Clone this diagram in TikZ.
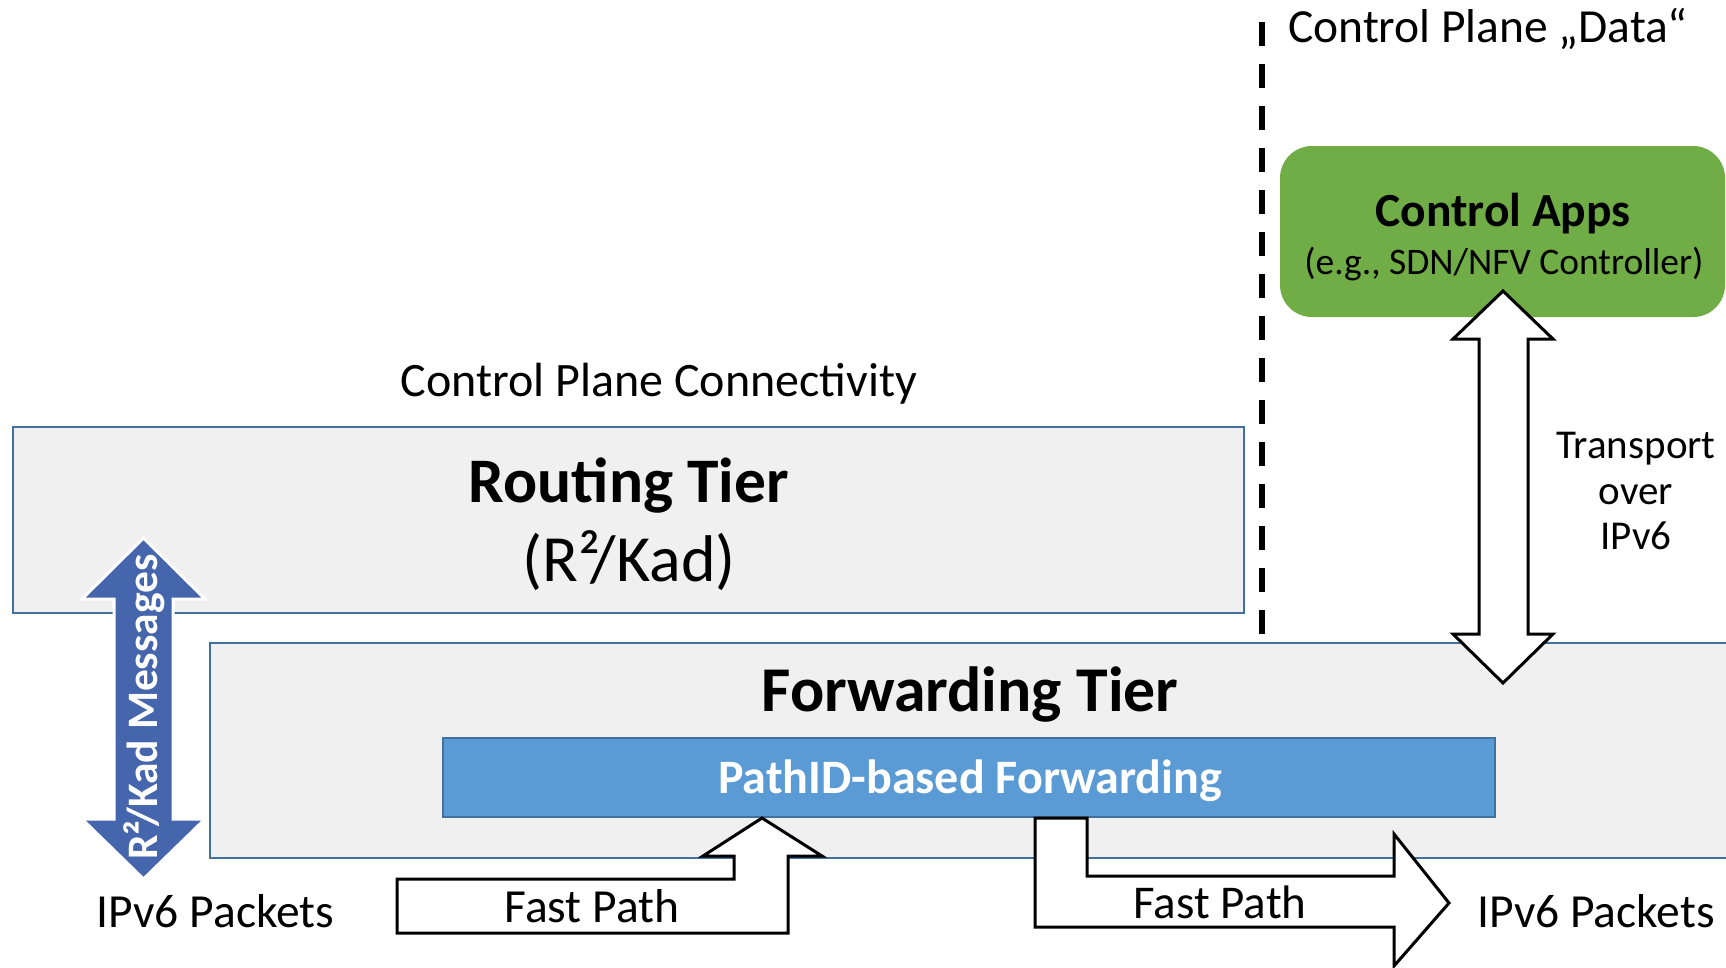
\documentclass[tikz,border=0pt]{standalone}
\usepackage{fontspec}
\setmainfont{Carlito}
\definecolor{tierfill}{HTML}{F0F0F0}
\definecolor{tierline}{HTML}{41719C}
\definecolor{pathfill}{HTML}{5B9BD5}
\definecolor{appgreen}{HTML}{70AD47}
\definecolor{msgblue}{HTML}{4565AD}
\newcommand{\fsz}[1]{\fontsize{#1}{#1}\selectfont}
\begin{document}
\begin{tikzpicture}[x=1pt,y=-1pt,
  tierbox/.style={draw=tierline, fill=tierfill, line width=2.5pt, inner sep=0pt},
  pathbox/.style={draw=tierline, fill=pathfill, line width=2pt, inner sep=0pt},
  appbox/.style={fill=appgreen, rounded corners=32pt, inner sep=0pt},
  lbl/.style={inner sep=0pt, anchor=base},
  blockarrow/.style={draw=black, fill=white, line width=3pt, line join=miter},
  msgarrow/.style={draw=white, fill=msgblue, line width=3pt, line join=miter},
  planeline/.style={draw=black, line width=6pt, dash pattern=on 24pt off 18pt}
]
\useasboundingbox (0,0) rectangle (1726,967);

% boxes
\node[tierbox, minimum width=1231pt, minimum height=186pt] (routing) at (628.5,520) {};
\node[tierbox, minimum width=1540pt, minimum height=215pt] (forwarding) at (980,750.5) {};
\node[pathbox, minimum width=1052pt, minimum height=79pt] (pathid) at (969,777.5) {};
\node[appbox, minimum width=445pt, minimum height=171pt] (apps) at (1502.5,231.5) {};

% dashed separator
\coordinate (sepbot) at (1262,634);
\coordinate (septop) at (1262,18);
\draw[planeline] (sepbot) -- (septop);

% transport double arrow
\draw[blockarrow] (1503,291) -- (1553,339) -- (1528,339) -- (1528,634) -- (1553,634)
  -- (1503,683) -- (1453,634) -- (1479,634) -- (1479,339) -- (1453,339) -- cycle;

% fast path arrows
\draw[blockarrow] (397,933) -- (397,879) -- (734,879) -- (734,856) -- (703,856)
  -- (762,818) -- (822,856) -- (788,856) -- (788,933) -- cycle;
\draw[blockarrow] (1035,818) -- (1087,818) -- (1087,876) -- (1394,876) -- (1394,834)
  -- (1449,903) -- (1394,966) -- (1394,927) -- (1035,927) -- cycle;

% R2/Kad messages arrow
\draw[msgarrow] (143.5,538) -- (205,599) -- (173,599) -- (173,819) -- (205,819)
  -- (143.5,879) -- (82,819) -- (114,819) -- (114,599) -- (82,599) -- cycle;
\node[lbl, rotate=90, text=white, font=\fsz{43.5}\bfseries] (msgtxt) at (157.5,707) {R²/Kad Messages};

% texts
\node[lbl, anchor=base west, font=\fsz{47.5}] (cpdata) at (1288,42) {Control Plane „Data“};
\node[lbl, font=\fsz{48}] (cpconn) at (659,396) {Control Plane Connectivity};
\node[lbl, font=\fsz{63.5}\bfseries] (rtitle) at (629,502) {Routing Tier};
\node[lbl, font=\fsz{66}] (rsub) at (629,581) {(R²/Kad)};
\node[lbl, font=\fsz{63.8}\bfseries] (ftitle) at (970,711) {Forwarding Tier};
\node[lbl, font=\fsz{48}\bfseries, text=white] (ptitle) at (970,793) {PathID-based Forwarding};
\node[lbl, font=\fsz{47.5}\bfseries] (atitle) at (1503,226) {Control Apps};
\node[lbl, font=\fsz{37.5}] (asub) at (1504,274) {(e.g., SDN/NFV Controller)};
\node[lbl, font=\fsz{41}] (tr1) at (1636,458) {Transport};
\node[lbl, font=\fsz{41}] (tr2) at (1636,504) {over};
\node[lbl, font=\fsz{41}] (tr3) at (1636,549) {IPv6};
\node[lbl, font=\fsz{47.5}] (fp1) at (592,922) {Fast Path};
\node[lbl, font=\fsz{47}] (fp2) at (1220,918) {Fast Path};
\node[lbl, font=\fsz{47.5}] (ip1) at (215.5,927) {IPv6 Packets};
\node[lbl, font=\fsz{47.5}] (ip2) at (1596,927) {IPv6 Packets};
\end{tikzpicture}
\end{document}
